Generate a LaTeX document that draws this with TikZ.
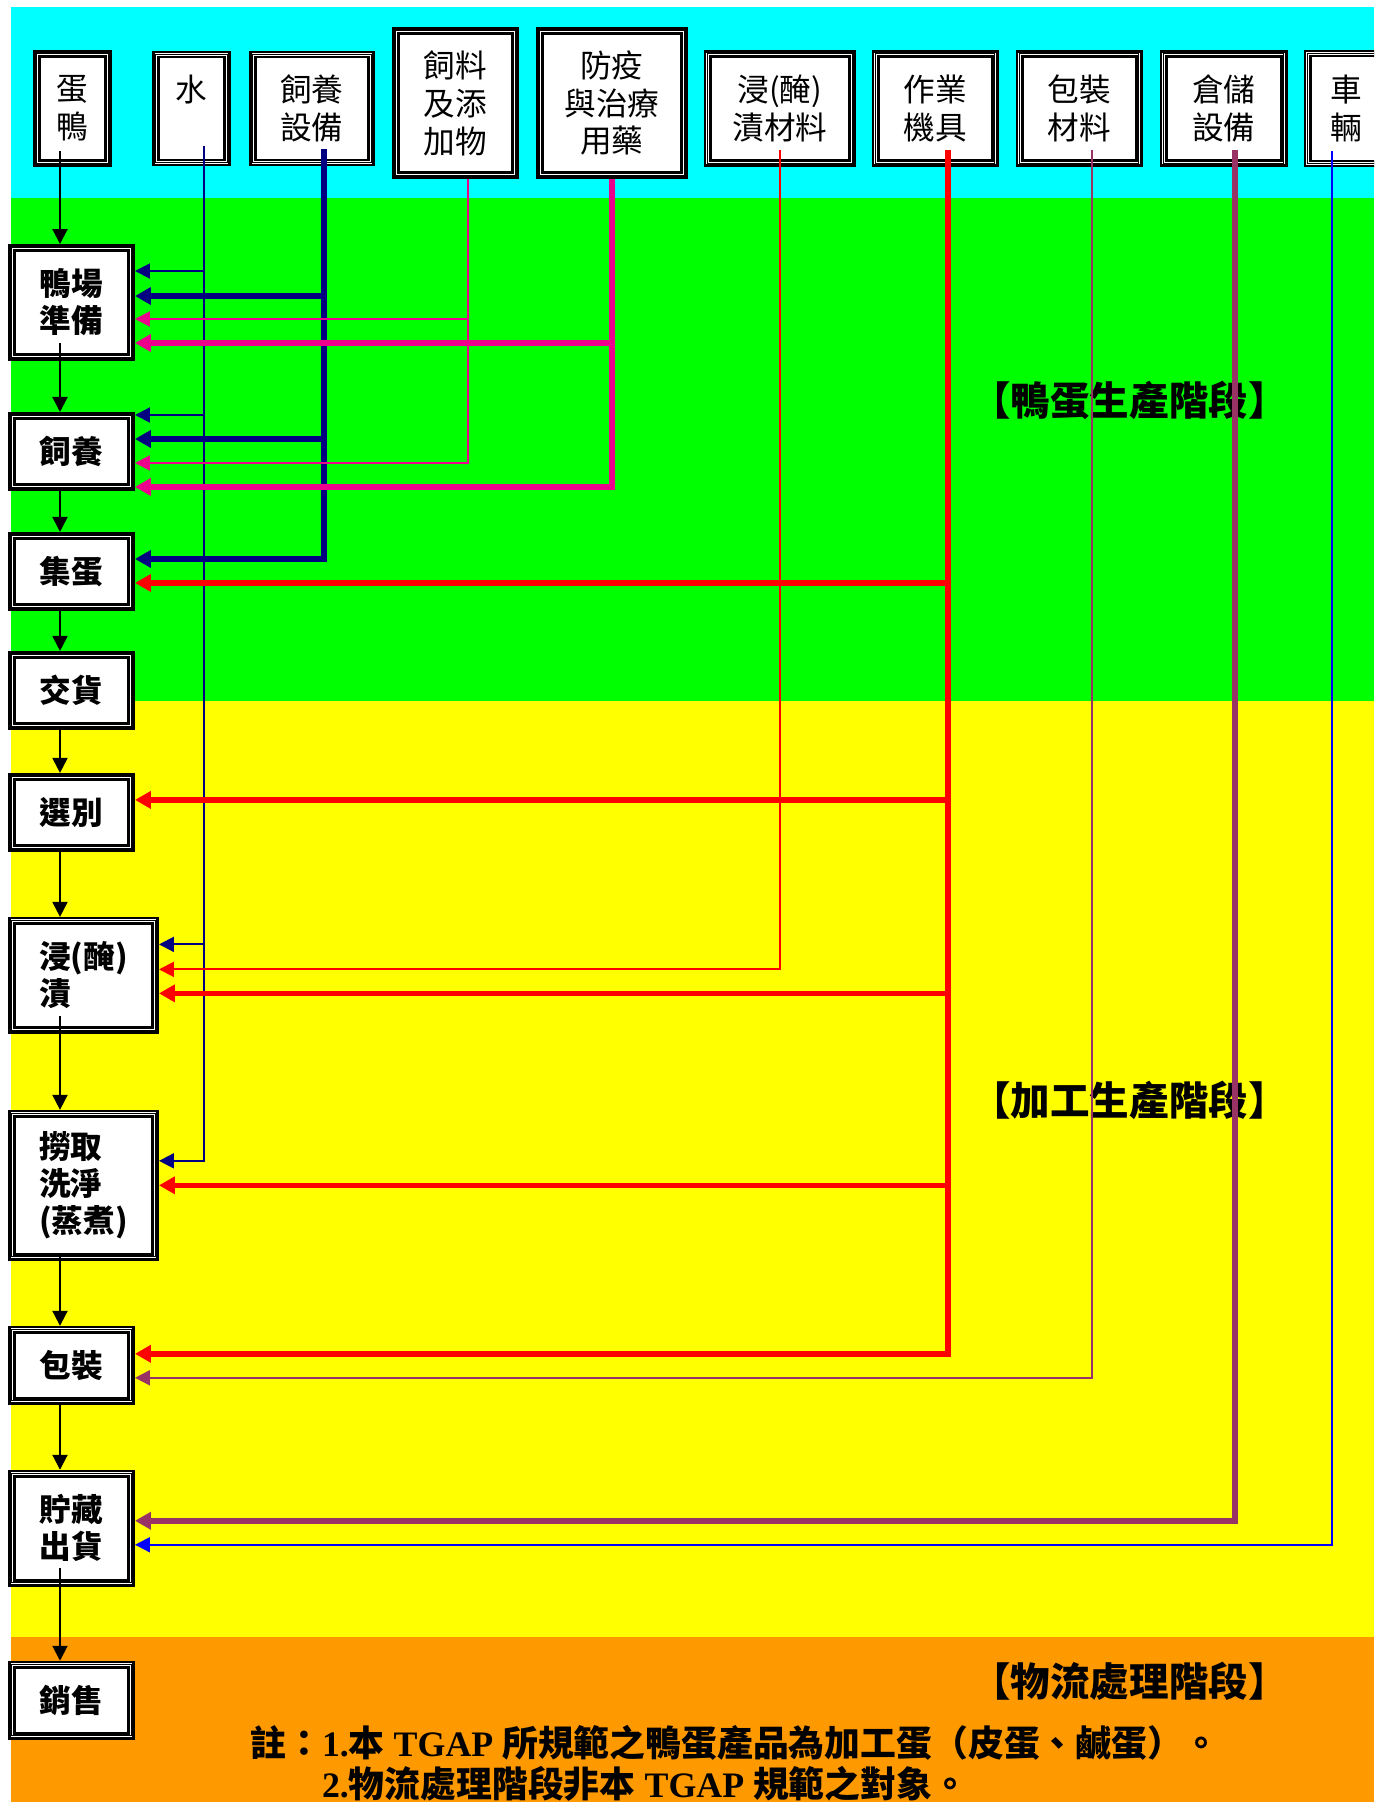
\documentclass[tikz,border=0pt]{standalone}
\usepackage{fontspec}
\setmainfont{Liberation Serif}
\newfontfamily\cjk{Noto Sans CJK TC}
\usetikzlibrary{positioning}
\usetikzlibrary{arrows.meta}
\newcommand{\lat}[1]{{\rmfamily\bfseries #1}}
\definecolor{bgcyan}{HTML}{00FFFF}
\definecolor{bggreen}{HTML}{00FF00}
\definecolor{bgyellow}{HTML}{FFFF00}
\definecolor{bgorange}{HTML}{FF9900}
\definecolor{navy}{HTML}{000080}
\definecolor{plum}{HTML}{993366}

\begin{document}
\begin{tikzpicture}[x=0.02cm, y=-0.02cm,
  srcbox/.style={draw, fill=white, line width=0.052cm, double=white, double distance=0.052cm,
    postaction={draw, line width=0.018cm}, outer sep=0.078cm, inner sep=0pt, align=center,
    font=\cjk\fontsize{18pt}{21.6pt}\selectfont},
  procbox/.style={srcbox, minimum width=2.384cm, minimum height=1.424cm,
    font=\cjk\bfseries\fontsize{18pt}{21pt}\selectfont},
  stage/.style={anchor=west, inner sep=0pt, font=\cjk\bfseries\fontsize{22.5pt}{26pt}\selectfont},
  lean/.style={line width=0.04cm, -{Triangle[length=0.3cm, width=0.3cm]}},
  heavy/.style={line width=0.11cm, -{Triangle[length=0.32cm, width=0.34cm]}}]
%\draw [help lines] (0,0) grid[step=100] (1374,1802);
\useasboundingbox (0,0) rectangle (1374,1802);
\clip (0,0) rectangle (1374,1802);

\fill[bgcyan]   (11,7)    rectangle (1374,198);
\fill[bggreen]  (11,198)  rectangle (1374,701);
\fill[bgyellow] (11,701)  rectangle (1374,1637);
\fill[bgorange] (11,1637) rectangle (1374,1802);

\node[stage] (s1) at (971,400)  {【鴨蛋生產階段】};
\node[stage] (s2) at (971,1100) {【加工生產階段】};
\node[stage] (s3) at (971,1681) {【物流處理階段】};
\node[anchor=west, inner sep=0pt, align=left, font=\cjk\bfseries\fontsize{20.4pt}{23.2pt}\selectfont]
  (note) at (250,1763.5) {註：\lat{1.}本\lat{ TGAP }所規範之鴨蛋產品為加工蛋（皮蛋、鹹蛋）。\\
  \hspace*{2em}\lat{2.}物流處理階段非本\lat{ TGAP }規範之對象。};

% Inputs
\node[srcbox, minimum width=1.424cm, minimum height=2.184cm] (duck) at (72.5,108.5) {蛋\\鴨};
\node[srcbox, right=0.8cm of duck,  minimum width=1.424cm, minimum height=2.164cm] (water) {水\\\phantom{水}};
\node[srcbox, right=0.36cm of water, minimum width=2.364cm, minimum height=2.164cm] (equip) {飼養\\設備};
\node[srcbox, right=0.34cm of equip, yshift=0.11cm, minimum width=2.384cm, minimum height=2.884cm] (fodder) {飼料\\及添\\加物};
\node[srcbox, right=0.34cm of fodder, minimum width=2.884cm, minimum height=2.884cm] (drug) {防疫\\與治療\\用藥};
\node[srcbox, right=0.32cm of drug, yshift=-0.11cm, minimum width=2.884cm, minimum height=2.184cm] (brine) {浸(醃)\\漬材料};
\node[srcbox, right=0.32cm of brine, minimum width=2.384cm, minimum height=2.184cm] (tool) {作業\\機具};
\node[srcbox, right=0.34cm of tool,  minimum width=2.384cm, minimum height=2.184cm] (wrap) {包裝\\材料};
\node[srcbox, right=0.34cm of wrap,  minimum width=2.404cm, minimum height=2.184cm] (depot) {倉儲\\設備};
\node[srcbox, right=0.32cm of depot, minimum width=1.564cm, minimum height=2.2cm] (car) {車\\輛};

% Steps
\node[procbox, minimum height=2.184cm] (prep) at (71.5,302.5) {鴨場\\準備};
\node[procbox, below=1.02cm of prep]    (feed)    {飼養};
\node[procbox, below=0.82cm of feed]    (collect) {集蛋};
\node[procbox, below=0.8cm of collect]  (deliver) {交貨};
\node[procbox, below=0.86cm of deliver] (sort)    {選別};
\node[procbox, below=1.3cm of sort, xshift=0.24cm, minimum width=2.864cm, minimum height=2.184cm, align=left] (pickle) {浸(醃)\\漬};
\node[procbox, below=1.52cm of pickle, minimum width=2.864cm, minimum height=2.864cm, align=left] (wash) {撈取\\洗淨\\(蒸煮)};
\node[procbox, below=1.3cm of wash, xshift=-0.24cm] (pack) {包裝};
\node[procbox, below=1.3cm of pack, minimum height=2.184cm] (store) {貯藏\\出貨};
\node[procbox, below=1.48cm of store] (sale) {銷售};

\coordinate (spine) at (60,0);

% Edges
\foreach \a/\b/\s in {duck/prep/0.32, prep/feed/0.36, feed/collect/0.06, collect/deliver/0.08,
  deliver/sort/0, sort/pickle/0, pickle/wash/0.36, wash/pack/0.08, pack/store/0, store/sale/0.38}
  \draw[lean] ([yshift=\s cm]\a.south -| spine) -- (\b.north -| spine);

\draw[lean, navy] ([xshift=0.25cm, yshift=0.4cm]water.south) |- ([yshift=0.63cm]prep.east);
\draw[lean, navy] ([xshift=0.25cm, yshift=0.4cm]water.south) |- ([yshift=0.73cm]feed.east);
\draw[lean, navy] ([xshift=0.25cm, yshift=0.4cm]water.south) |- ([yshift=0.62cm]pickle.east);
\draw[lean, navy] ([xshift=0.25cm, yshift=0.4cm]water.south) |- ([yshift=0.49cm]wash.east);

\draw[heavy, navy] ([xshift=0.24cm, yshift=0.34cm]equip.south) |- ([yshift=0.13cm]prep.east);
\draw[heavy, navy] ([xshift=0.24cm, yshift=0.34cm]equip.south) |- ([yshift=0.25cm]feed.east);
\draw[heavy, navy] ([xshift=0.24cm, yshift=0.34cm]equip.south) |- ([yshift=0.25cm]collect.east);

\draw[lean, magenta] ([xshift=0.25cm]fodder.south) |- ([yshift=-0.33cm]prep.east);
\draw[lean, magenta] ([xshift=0.25cm]fodder.south) |- ([yshift=-0.23cm]feed.east);

\draw[heavy, magenta] (drug.south) |- ([yshift=-0.81cm]prep.east);
\draw[heavy, magenta] (drug.south) |- ([yshift=-0.71cm]feed.east);

\draw[lean, red] ([yshift=0.34cm]brine.south) |- ([yshift=0.12cm]pickle.east);

\draw[heavy, red] ([xshift=0.25cm, yshift=0.34cm]tool.south) |- ([yshift=-0.23cm]collect.east);
\draw[heavy, red] ([xshift=0.25cm, yshift=0.34cm]tool.south) |- ([yshift=0.25cm]sort.east);
\draw[heavy, red] ([xshift=0.25cm, yshift=0.34cm]tool.south) |- ([yshift=-0.36cm]pickle.east);
\draw[heavy, red] ([xshift=0.25cm, yshift=0.34cm]tool.south) |- (wash.east);
\draw[heavy, red] ([xshift=0.25cm, yshift=0.34cm]tool.south) |- ([yshift=0.23cm]pack.east);

\draw[lean, plum] ([xshift=0.25cm, yshift=0.34cm]wrap.south) |- ([yshift=-0.25cm]pack.east);
\draw[heavy, plum] ([xshift=0.22cm, yshift=0.34cm]depot.south) |- ([yshift=0.15cm]store.east);
\draw[lean, blue] ([xshift=-0.3cm, yshift=0.32cm]car.south) |- ([yshift=-0.33cm]store.east);

\end{tikzpicture}
\end{document}
